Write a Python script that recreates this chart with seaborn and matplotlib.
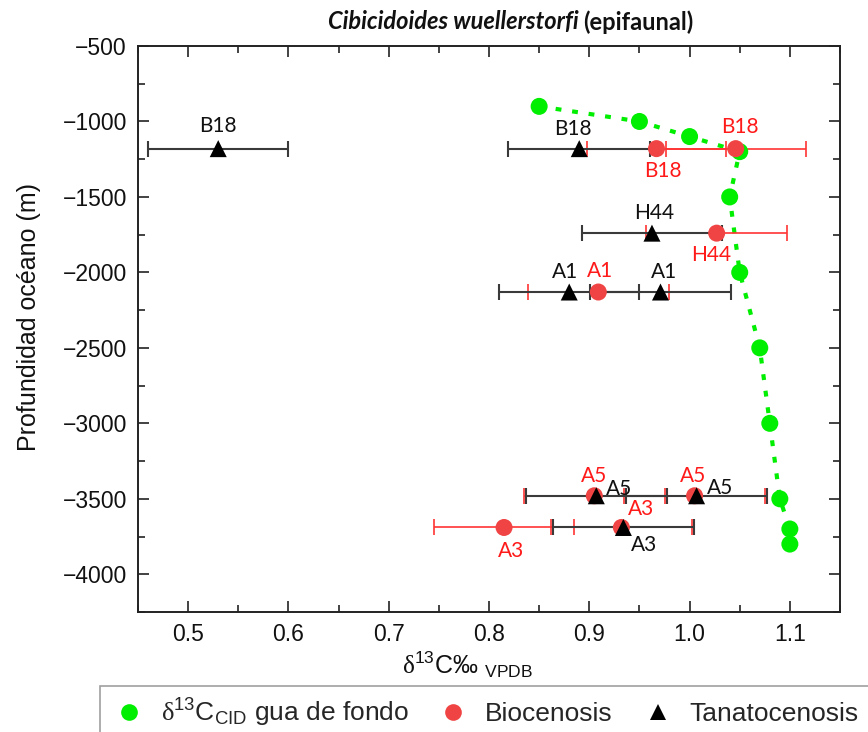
import numpy as np
import pandas as pd
import matplotlib
matplotlib.use("Agg")
import matplotlib.pyplot as plt
import seaborn as sns
from matplotlib.lines import Line2D
from matplotlib.ticker import MultipleLocator

# ---------------- data ----------------
agua_x = [0.85, 0.95, 1.00, 1.05, 1.04, 1.05, 1.07, 1.08, 1.09, 1.10, 1.10]
agua_y = [-900, -1000, -1100, -1200, -1500, -2000, -2500, -3000, -3500, -3700, -3800]

bio_site = ["B18", "B18", "H44", "A1", "A5", "A5", "A3", "A3"]
bio_x = [0.967, 1.046, 1.027, 0.909, 0.905, 1.005, 0.815, 0.932]
bio_y = [-1180, -1180, -1740, -2130, -3480, -3480, -3690, -3690]
bio_err = [0.069, 0.070, 0.070, 0.070, 0.070, 0.070, 0.070, 0.070]

tan_site = ["B18", "B18", "H44", "A1", "A1", "A5", "A5", "A3"]
tan_x = [0.530, 0.890, 0.9625, 0.880, 0.971, 0.907, 1.007, 0.934]
tan_y = [-1180, -1180, -1740, -2130, -2130, -3480, -3480, -3690]
tan_err = [0.070, 0.071, 0.070, 0.070, 0.070, 0.070, 0.070, 0.070]

x_ticks = [0.5, 0.6, 0.7, 0.8, 0.9, 1.0, 1.1]
y_ticks = [-500, -1000, -1500, -2000, -2500, -3000, -3500, -4000]

# label offsets (pixels) relative to each point
bio_off = [(6, -22), (4, 22), (-5, -22), (2, 21), (0, 20), (-2, 20), (7, -24), (20, 18)]
tan_off = [(0, 23), (-6, 20), (2, 20), (-4, 20), (4, 20), (23, 7), (23, 8), (21, -18)]

GREEN = "#00ee00"
RED_PT = "#f04444"
RED_BAR = "#ff3333"
RED_TXT = "#ff1a1a"
BLACK_BAR = "#3a3a3a"

sns.set_theme(style="ticks")
plt.rcParams["font.family"] = ["Liberation Sans", "DejaVu Sans"]
plt.rcParams["mathtext.fontset"] = "custom"
plt.rcParams["mathtext.rm"] = "Liberation Sans"
plt.rcParams["mathtext.it"] = "Liberation Sans:italic"
plt.rcParams["mathtext.bf"] = "Liberation Sans:bold"
plt.rcParams["mathtext.sf"] = "Liberation Serif"

fig = plt.figure(figsize=(8.68, 7.32), dpi=100)
ax = fig.add_axes([138 / 868, 1 - 612 / 732, (840 - 138) / 868, (612 - 46) / 732])

agua_df = pd.DataFrame({"x": agua_x, "y": agua_y})
bio_df = pd.DataFrame({"x": bio_x, "y": bio_y, "err": bio_err, "site": bio_site})
tan_df = pd.DataFrame({"x": tan_x, "y": tan_y, "err": tan_err, "site": tan_site})

# dotted line for bottom water
sns.lineplot(data=agua_df, x="x", y="y", sort=False, estimator=None, ax=ax,
             color=GREEN, lw=3, zorder=1, legend=False)
ax.lines[-1].set_linestyle((0, (1.4, 2.6)))

# error bars
ax.errorbar(bio_df["x"], bio_df["y"], xerr=bio_df["err"], fmt="none",
            ecolor=RED_BAR, elinewidth=1.2, capsize=6, capthick=1.2, zorder=2)
ax.errorbar(tan_df["x"], tan_df["y"], xerr=tan_df["err"], fmt="none",
            ecolor=BLACK_BAR, elinewidth=1.5, capsize=6, capthick=1.5, zorder=3)

sns.scatterplot(data=agua_df, x="x", y="y", color=GREEN, s=150, edgecolor="none",
                ax=ax, zorder=4, legend=False)
sns.scatterplot(data=bio_df, x="x", y="y", color=RED_PT, s=150, edgecolor="none",
                ax=ax, zorder=5, legend=False)
sns.scatterplot(data=tan_df, x="x", y="y", color="black", marker="^", s=150,
                edgecolor="none", ax=ax, zorder=6, legend=False)

lab_font = dict(family=["Lato", "DejaVu Sans"], fontsize=15, ha="center", va="center")
for s, x, y, (dx, dy) in zip(bio_site, bio_x, bio_y, bio_off):
    ax.annotate(s, (x, y), xytext=(dx, dy), textcoords="offset pixels",
                color=RED_TXT, zorder=7, **lab_font)
for s, x, y, (dx, dy) in zip(tan_site, tan_x, tan_y, tan_off):
    ax.annotate(s, (x, y), xytext=(dx, dy), textcoords="offset pixels",
                color="#111111", zorder=7, **lab_font)

ax.set_xlim(0.45, 1.15)
ax.set_ylim(-4250, -500)
ax.set_xticks(x_ticks)
ax.set_xticklabels([f"{v:.1f}" for v in x_ticks])
ax.set_yticks(y_ticks)
ax.set_yticklabels([f"\u2212{abs(v)}" for v in y_ticks])
ax.xaxis.set_minor_locator(MultipleLocator(0.05))
ax.yaxis.set_minor_locator(MultipleLocator(250))
ax.tick_params(which="both", direction="in", top=True, right=True,
               color="#222222", width=1.2)
ax.tick_params(which="major", length=8, labelsize=16.5, pad=8, labelcolor="#111111")
ax.tick_params(which="minor", length=5)
for sp in ax.spines.values():
    sp.set_color("#222222")
    sp.set_linewidth(1.4)

ax.set_xlabel(r"$\mathsf{\delta}^{13}$C‰ $_{\rm VPDB}$", fontsize=18, color="#111111")
ax.xaxis.set_label_coords(0.470, -0.066)
ax.set_ylabel("Profundidad océano (m)", fontsize=18, color="#111111")
ax.yaxis.set_label_coords(-0.138, 0.521)

# title in two parts
t1 = fig.text(328 / 868, 1 - 22 / 732, "Cibicidoides wuellerstorfi", fontsize=17,
              fontweight="bold", fontstyle="italic", family=["Lato", "DejaVu Sans"],
              ha="left", va="center", color="#111111")
fig.canvas.draw()
bb = t1.get_window_extent()
fig.text((bb.x1 + 5) / 868, 1 - 22 / 732, "(epifaunal)", fontsize=17,
         fontweight="bold", family=["Lato", "DejaVu Sans"], ha="left", va="center",
         color="#111111")

# legend
handles = [
    Line2D([], [], ls="none", marker="o", color=GREEN, markersize=12, markeredgewidth=0),
    Line2D([], [], ls="none", marker="o", color=RED_PT, markersize=12, markeredgewidth=0),
    Line2D([], [], ls="none", marker="^", color="black", markersize=12, markeredgewidth=0),
]
labels = [r"$\mathsf{\delta}^{13}$C$_{\rm CID}$ gua de fondo", "Biocenosis", "Tanatocenosis"]
leg = fig.legend(handles, labels, loc="upper left", bbox_to_anchor=(100 / 868, 1 - 686 / 732),
                 ncol=3, frameon=True, fancybox=False, edgecolor="#888888",
                 fontsize=19, handlelength=1.4, handletextpad=0.5, columnspacing=1.0,
                 borderpad=0.4, borderaxespad=0)
leg.get_frame().set_linewidth(1.2)

fig.savefig("out.png", dpi=100, facecolor="white")
